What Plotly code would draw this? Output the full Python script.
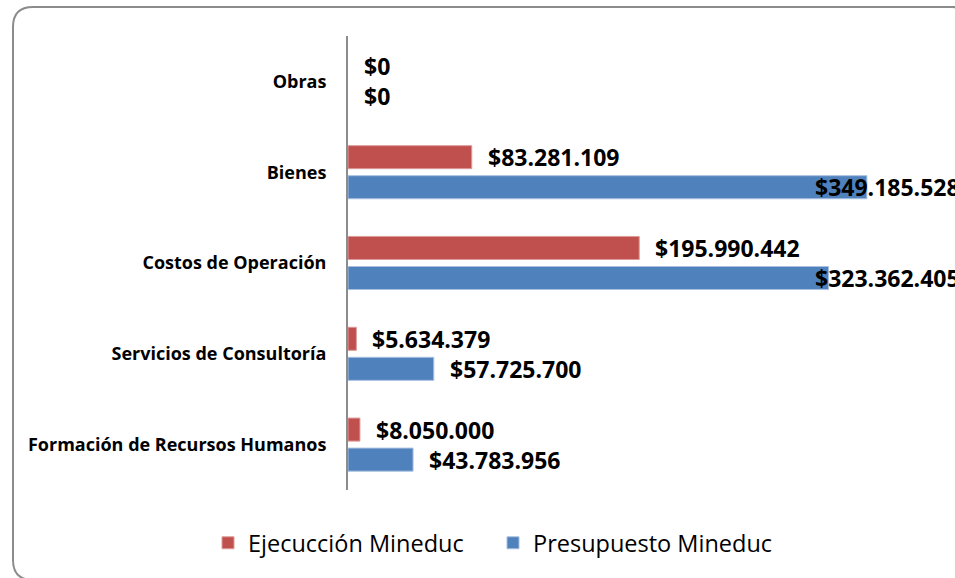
import plotly.graph_objects as go

categories = ["Formación de Recursos Humanos", "Servicios de Consultoría",
              "Costos de Operación", "Bienes", "Obras"]
ejecucion = [8050000, 5634379, 195990442, 83281109, 0]
presupuesto = [43783956, 57725700, 323362405, 349185528, 0]
series_names = ["Ejecucción Mineduc", "Presupuesto Mineduc"]

# label horizontal shifts (px) relative to bar end
ejec_label_shift = [14, 14, 14, 14, 14]
pres_label_shift = [14, 14, -16, -54, 14]

RED = "#C0504D"
BLUE = "#4F81BD"

W, H = 955, 578
L, R, T, B = 348, 15, 36, 88
PW, PH = W - L - R, H - T - B


def px2paper(x, y):
    return (x - L) / PW, (H - B - y) / PH


def fmt(v):
    return "$" + f"{v:,}".replace(",", ".")


fig = go.Figure()
fig.add_trace(go.Bar(
    y=categories, x=presupuesto, name=series_names[1], orientation="h",
    marker=dict(color=BLUE, line=dict(color="#A9C0DF",
                                      width=[1 if v > 0 else 0 for v in presupuesto])),
))
fig.add_trace(go.Bar(
    y=categories, x=ejecucion, name=series_names[0], orientation="h",
    marker=dict(color=RED, line=dict(color="#DC9C9A",
                                     width=[1 if v > 0 else 0 for v in ejecucion])),
))

label_font = dict(family="Open Sans", size=23, color="#000000", weight="bold")
for cat, v, s in zip(categories, ejecucion, ejec_label_shift):
    fig.add_annotation(x=v, y=cat, text="<b>" + fmt(v) + "</b>", showarrow=False,
                       xanchor="left", yanchor="middle", xshift=s, yshift=15,
                       font=label_font)
for cat, v, s in zip(categories, presupuesto, pres_label_shift):
    fig.add_annotation(x=v, y=cat, text="<b>" + fmt(v) + "</b>", showarrow=False,
                       xanchor="left", yanchor="middle", xshift=s, yshift=-15,
                       font=label_font)

# rounded outer frame
x0, y0, x1, y1, r = 13, 7, 972, 580, 20
def P(x, y):
    a, b = px2paper(x, y)
    return f"{a:.5f},{b:.5f}"
path = (f"M {P(x0 + r, y0)} L {P(x1 - r, y0)} Q {P(x1, y0)} {P(x1, y0 + r)} "
        f"L {P(x1, y1 - r)} Q {P(x1, y1)} {P(x1 - r, y1)} "
        f"L {P(x0 + r, y1)} Q {P(x0, y1)} {P(x0, y1 - r)} "
        f"L {P(x0, y0 + r)} Q {P(x0, y0)} {P(x0 + r, y0)} Z")
fig.add_shape(type="path", path=path, xref="paper", yref="paper",
              line=dict(color="#8C8C8C", width=2), layer="below")

lx, ly = px2paper(493, 543)
fig.update_layout(
    width=W, height=H,
    margin=dict(l=L, r=R, t=T, b=B, autoexpand=False),
    paper_bgcolor="white", plot_bgcolor="white",
    barmode="group", bargap=0.338, bargroupgap=0.233,
    showlegend=True,
    legend=dict(orientation="h", x=lx, y=ly, xanchor="center", yanchor="middle",
                traceorder="reversed",
                font=dict(family="Open Sans", size=23.5, color="#000000"),
                itemwidth=30, entrywidth=240, entrywidthmode="pixels",
                bgcolor="rgba(0,0,0,0)"),
    xaxis=dict(range=[0, PW / 1.486e-6], visible=False, showgrid=False,
               zeroline=False, fixedrange=True),
    yaxis=dict(showline=True, linecolor="#8C8C8C", linewidth=2,
               showgrid=False, ticks="", ticklabelstandoff=16,
               tickfont=dict(family="Open Sans", size=18, color="#000000",
                             weight="bold"),
               categoryorder="array", categoryarray=categories),
)

fig.write_html("out.html", config={"displayModeBar": False},
               post_script="document.body.style.margin='0';document.body.style.overflow='hidden';")
